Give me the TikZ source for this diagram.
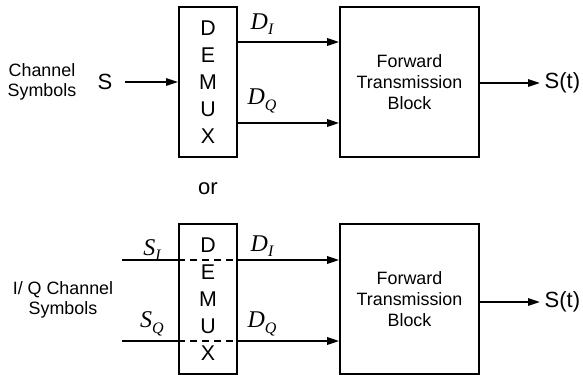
\documentclass[tikz,border=0pt]{standalone}
\usepackage{fontspec}
\setmainfont{Liberation Sans}
\newfontfamily\tnr{Liberation Serif}
\usetikzlibrary{arrows.meta, positioning, calc}
\tikzstyle{demux}  = [rectangle, draw, line width=1.4pt, minimum width=43.5pt,
                      minimum height=112.5pt, align=center, inner sep=0pt,
                      font=\fontsize{16}{20.3}\selectfont]
\tikzstyle{fwd}    = [rectangle, draw, line width=1.4pt, minimum width=104pt,
                      minimum height=112.5pt, align=center,
                      font=\fontsize{13.4}{15.8}\selectfont]
\tikzstyle{lbl}    = [align=center, font=\fontsize{13.4}{15.5}\selectfont]
\tikzstyle{sym}    = [font=\fontsize{16.5}{18}\selectfont]
\tikzstyle{sig}    = [font=\fontsize{18}{19}\selectfont\tnr\itshape]
\tikzstyle{line}   = [line width=1.4pt]
\tikzstyle{dline}  = [line width=1.4pt, dash pattern=on 5pt off 4pt]
\tikzstyle{arrow}  = [-{Triangle[length=9pt,width=5.5pt]}, line width=1.4pt]
\newcommand{\sub}[1]{\raisebox{-4pt}{\fontsize{12}{12}\selectfont #1}}

\begin{document}
\begin{tikzpicture}[x=0.75pt, y=-0.75pt]
  \useasboundingbox (0,0) rectangle (583,375);

  % Upper chain
  \node[demux] (dmx1) at (208,82) {D\\E\\M\\U\\X};
  \node[fwd] (ftb1) at (409.5,82) {Forward\\Transmission\\Block};
  \node[lbl] (chs) at (42,82) {Channel\\Symbols};
  \node[sym] (s) at (105,82) {S};
  \node[sym, anchor=west] (st1) at (540,83) {S(t)};
  \node[sig] (di1) at (262,24) {D\sub{I}};
  \node[sig] (dq1) at (262,101) {D\sub{Q}};

  \coordinate (yi1) at (0,42);
  \coordinate (yq1) at (0,123);

  \draw[arrow] ([xshift=6pt]s.east) -- (dmx1.west |- s);
  \draw[arrow] (dmx1.east |- yi1) -- (ftb1.west |- yi1);
  \draw[arrow] (dmx1.east |- yq1) -- (ftb1.west |- yq1);
  \draw[arrow] (ftb1.east |- st1) -- (st1);

  \node[sym] (or) at (208,189) {or};

  % Lower chain
  \node[demux] (dmx2) at (208,299) {D\\E\\M\\U\\X};
  \node[fwd] (ftb2) at (409.5,299) {Forward\\Transmission\\Block};
  \node[lbl] (iqs) at (63,300) {I/ Q Channel\\Symbols};
  \node[sym, anchor=west] (st2) at (540,302) {S(t)};
  \node[sig] (si) at (152,250) {S\sub{I}};
  \node[sig] (sq) at (152,324) {S\sub{Q}};
  \node[sig] (di2) at (262,246) {D\sub{I}};
  \node[sig] (dq2) at (262,324) {D\sub{Q}};

  \coordinate (ini) at (122,260);
  \coordinate (inq) at (122,341);

  \draw[line] (ini) -- (dmx2.west |- ini);
  \draw[line] (inq) -- (dmx2.west |- inq);
  \draw[dline] (dmx2.west |- ini) -- (dmx2.east |- ini);
  \draw[dline] (dmx2.west |- inq) -- (dmx2.east |- inq);
  \draw[arrow] (dmx2.east |- ini) -- (ftb2.west |- ini);
  \draw[arrow] (dmx2.east |- inq) -- (ftb2.west |- inq);
  \draw[arrow] (ftb2.east |- st2) -- (st2);
\end{tikzpicture}
\end{document}
